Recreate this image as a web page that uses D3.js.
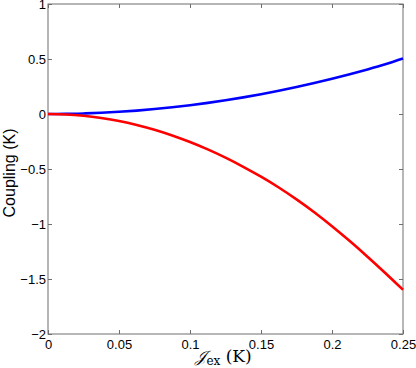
<!DOCTYPE html>
<html>
<head>
<meta charset="utf-8">
<script src="https://cdn.jsdelivr.net/npm/d3@7"></script>
<style>
  body { margin: 0; background: #fff; }
  text { font-family: "Liberation Sans", Arial, sans-serif; }
</style>
</head>
<body>
<div id="chart"></div>
<script>
// values
var jex = [0, 0.0125, 0.025, 0.0375, 0.05, 0.0625, 0.075, 0.0875, 0.1, 0.1125, 0.125,
           0.1375, 0.15, 0.1625, 0.175, 0.1875, 0.2, 0.2125, 0.225, 0.2375, 0.25];
var blueVals = [0, 0.001, 0.005, 0.011, 0.02, 0.031, 0.045, 0.061, 0.08, 0.101, 0.125,
                0.151, 0.18, 0.211, 0.245, 0.281, 0.32, 0.361, 0.405, 0.452, 0.505];
var redVals = [0, -0.004, -0.016, -0.036, -0.063, -0.099, -0.143, -0.195, -0.255, -0.322, -0.397,
               -0.48, -0.57, -0.668, -0.776, -0.893, -1.02, -1.155, -1.297, -1.445, -1.598];
var xTicks = [0, 0.05, 0.1, 0.15, 0.2, 0.25];
var xTickLabels = ["0", "0.05", "0.1", "0.15", "0.2", "0.25"];
var yTicks = [-2, -1.5, -1, -0.5, 0, 0.5, 1];
var yTickLabels = ["\u22122", "\u22121.5", "\u22121", "\u22120.5", "0", "0.5", "1"];

var margin = {top: 4, right: 13, bottom: 34, left: 48},
    width = 416 - margin.left - margin.right,
    height = 368 - margin.top - margin.bottom;

var svg = d3.select("#chart")
  .append("svg")
    .attr("width", 416)
    .attr("height", 368)
  .append("g")
    .attr("transform", "translate(" + margin.left + "," + margin.top + ")");

var x = d3.scaleLinear().domain([0, 0.25]).range([0, width]);
var y = d3.scaleLinear().domain([-2, 1]).range([height, 0]);

var axisColor = "#6e6e6e";

// box
svg.append("rect")
  .attr("width", width).attr("height", height)
  .attr("fill", "none").attr("stroke", axisColor).attr("stroke-width", 1);

// inward ticks on all sides
var tickLen = 4;
function styleAxis(g) {
  g.select(".domain").remove();
  g.selectAll(".tick line").attr("stroke", axisColor);
  g.selectAll("text").attr("fill", "#000").attr("font-size", 13);
}

svg.append("g")
  .attr("transform", "translate(0," + height + ")")
  .call(d3.axisBottom(x).tickValues(xTicks).tickSize(-tickLen).tickPadding(6)
    .tickFormat(function(d, i) { return xTickLabels[i]; }))
  .call(styleAxis);

svg.append("g")
  .call(d3.axisTop(x).tickValues(xTicks).tickSize(-tickLen).tickFormat(""))
  .call(styleAxis);

svg.append("g")
  .call(d3.axisLeft(y).tickValues(yTicks).tickSize(-tickLen).tickPadding(2)
    .tickFormat(function(d, i) { return yTickLabels[i]; }))
  .call(styleAxis);

svg.append("g")
  .attr("transform", "translate(" + width + ",0)")
  .call(d3.axisRight(y).tickValues(yTicks).tickSize(-tickLen).tickFormat(""))
  .call(styleAxis);

// curves
var line = d3.line()
  .x(function(d) { return x(d[0]); })
  .y(function(d) { return y(d[1]); })
  .curve(d3.curveMonotoneX);

svg.append("path")
  .datum(d3.zip(jex, blueVals))
  .attr("d", line)
  .attr("fill", "none").attr("stroke", "#0000ff").attr("stroke-width", 2.6);

svg.append("path")
  .datum(d3.zip(jex, redVals))
  .attr("d", line)
  .attr("fill", "none").attr("stroke", "#ff0000").attr("stroke-width", 2.6);

// axis labels
svg.append("text")
  .attr("transform", "translate(" + (-33) + "," + (height / 2 + 4) + ") rotate(-90)")
  .attr("text-anchor", "middle")
  .attr("font-size", 16)
  .text("Coupling (K)");

var xl = svg.append("text")
  .attr("x", width / 2 - 2)
  .attr("y", height + 28)
  .attr("text-anchor", "middle")
  .style("font-family", "'DejaVu Serif', 'Liberation Serif', serif")
  .attr("font-size", 17);
xl.append("tspan").style("font-style", "italic").attr("font-size", 16).text("\uD835\uDCA5");
xl.append("tspan").attr("font-size", 12).attr("dy", 3).text("ex");
xl.append("tspan").attr("dy", -3).text(" (K)");
</script>
</body>
</html>
